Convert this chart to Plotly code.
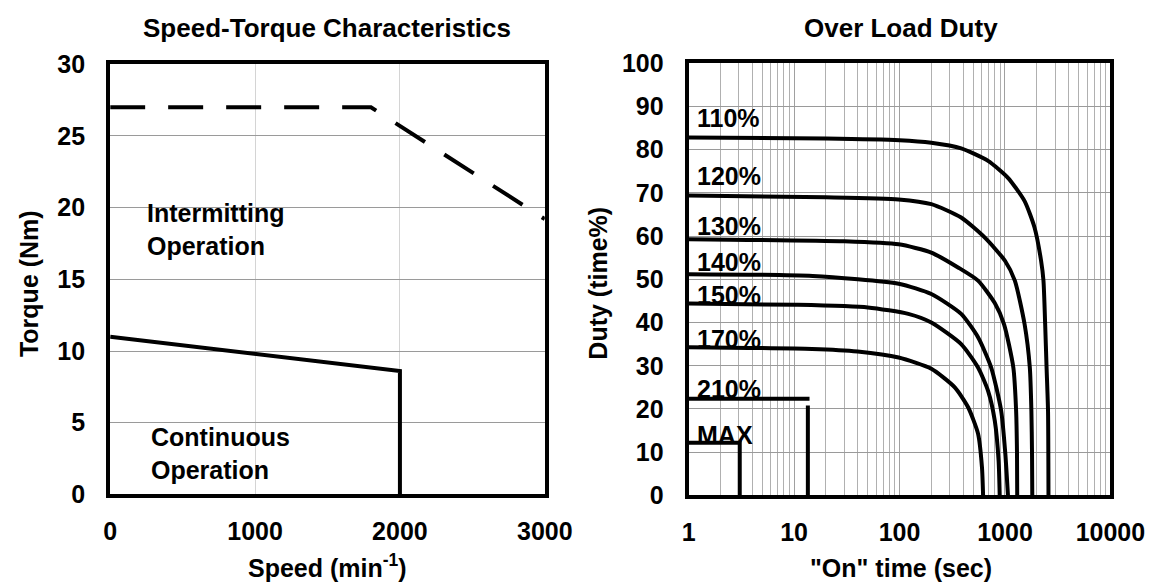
import plotly.graph_objects as go

W, H = 1153, 586

# ---------------- Speed-Torque data ----------------
intermit_speed = [0, 1800, 3000]
intermit_torque = [27.0, 27.0, 19.2]
cont_speed = [0, 2000, 2000]
cont_torque = [11.0, 8.6, 0.0]

# ---------------- Over load duty data ----------------
t110 = [1, 20, 100, 200, 384, 691, 1067, 1535, 1906, 2200, 2317, 2405, 2480, 2560, 2585]
d110 = [82.8, 82.6, 82.2, 81.6, 80.3, 77.4, 73.5, 68.1, 62.0, 54.3, 49.7, 39.6, 29.6, 19.6, 0]
t120 = [1, 20, 98, 200, 384, 641, 1000, 1240, 1535, 1720, 1780, 1805, 1815]
d120 = [69.4, 69.0, 68.5, 67.4, 64.3, 59.7, 54.3, 49.7, 39.6, 29.6, 19.6, 9.7, 0]
t130 = [1, 30, 98, 200, 362, 555, 800, 980, 1200, 1275, 1300, 1306]
d130 = [59.3, 58.8, 58.1, 56.2, 52.7, 49.7, 44.5, 39.6, 29.6, 19.6, 9.7, 0]
t140 = [1, 15, 98, 200, 384, 555, 740, 920, 1007, 1067]
d140 = [51.2, 50.8, 49.0, 46.6, 42.0, 36.6, 29.6, 19.6, 9.7, 0]
t150 = [1, 10.4, 50, 121, 200, 384, 555, 691, 800, 870, 891]
d150 = [44.4, 44.1, 43.5, 42.0, 40.0, 35.0, 29.6, 24.2, 17.3, 8.0, 0]
t170 = [1, 14.8, 40, 98, 200, 334, 447, 555, 605, 620]
d170 = [34.3, 33.9, 33.3, 31.9, 29.3, 25.0, 20.4, 14.3, 6.5, 0]
t210_h = [1, 14]
d210_h = [22.4, 22.4]
t210_v = [13.5, 13.5]
d210_v = [20.8, 0]
tmax = [1, 3.05, 3.05]
dmax = [12.2, 12.2, 0]

curve_labels = ["110%", "120%", "130%", "140%", "150%", "170%", "210%", "MAX"]
label_duty = [87.3, 73.9, 62.4, 53.9, 46.4, 36.3, 24.7, 13.9]

x_ticks_left = [0, 1000, 2000, 3000]
y_ticks_left = [0, 5, 10, 15, 20, 25, 30]
x_ticks_right = [1, 10, 100, 1000, 10000]
y_ticks_right = list(range(0, 101, 10))

FONT = "Liberation Sans, Arial, sans-serif"
FS = 25

# page pixel -> paper fraction (calibrated against the rendered page)
OX, SW = 12.1, 1119.6
OY, SH = 17.2, 565.5


def px(x):
    return (x - OX) / SW


def py(y):
    return 1 - (y - OY) / SH


fig = go.Figure()

fig.add_trace(go.Scatter(x=intermit_speed, y=intermit_torque, mode="lines",
                         line=dict(color="black", width=4, dash="35px,23px"),
                         xaxis="x", yaxis="y", showlegend=False))
fig.add_trace(go.Scatter(x=cont_speed, y=cont_torque, mode="lines",
                         line=dict(color="black", width=4), xaxis="x", yaxis="y",
                         showlegend=False))

for t, d in [(t110, d110), (t120, d120), (t130, d130), (t140, d140),
             (t150, d150), (t170, d170)]:
    fig.add_trace(go.Scatter(x=t, y=d, mode="lines",
                             line=dict(color="black", width=4, shape="spline", smoothing=0.6),
                             xaxis="x2", yaxis="y2", showlegend=False))
for t, d in [(t210_h, d210_h), (t210_v, d210_v), (tmax, dmax)]:
    fig.add_trace(go.Scatter(x=t, y=d, mode="lines", line=dict(color="black", width=4),
                             xaxis="x2", yaxis="y2", showlegend=False))

tickfont = dict(family=FONT, size=FS, color="black", weight="bold")
axis_common = dict(showline=True, mirror=True, linecolor="black", linewidth=4,
                   zeroline=False, ticks="outside", tickcolor="rgba(0,0,0,0)",
                   tickfont=tickfont)

minor_vals = [k * 10 ** d for d in range(4) for k in range(2, 10)]

fig.update_layout(
    width=W, height=H,
    margin=dict(l=0, r=0, t=0, b=0),
    paper_bgcolor="white", plot_bgcolor="white",
    font=dict(family=FONT, size=FS, color="black"),
    xaxis=dict(domain=[px(108), px(546)], anchor="y", range=[0, 3000],
               tickvals=x_ticks_left, ticklen=12, showgrid=True,
               gridcolor="#d4d4d4", gridwidth=1, **axis_common),
    yaxis=dict(domain=[py(496), py(60)], anchor="x", range=[0, 30],
               tickvals=y_ticks_left, ticklen=16, showgrid=True,
               gridcolor="#9a9a9a", gridwidth=1, **axis_common),
    xaxis2=dict(domain=[px(691), px(1116)], anchor="y2", type="log", range=[0, 4],
                tickvals=x_ticks_right, ticktext=[str(v) for v in x_ticks_right],
                ticklen=12, showgrid=True, gridcolor="#a0a0a0", gridwidth=1,
                minor=dict(tickvals=minor_vals, showgrid=True, gridcolor="#b0b0b0",
                           gridwidth=1, ticks=""),
                **axis_common),
    yaxis2=dict(domain=[py(497), py(59)], anchor="x2", range=[0, 100],
                tickvals=y_ticks_right, ticklen=16, showgrid=True,
                gridcolor="#9a9a9a", gridwidth=1, **axis_common),
)

bold = dict(family=FONT, size=FS, color="black", weight="bold")
title_font = dict(family=FONT, size=26, color="black", weight="bold")


def paper_anno(text, x, y, font, angle=0):
    return dict(text=text, x=px(x), y=py(y), xref="paper", yref="paper",
                xanchor="center", yanchor="middle", showarrow=False,
                textangle=angle, font=font)


annos = [
    paper_anno("Speed-Torque Characteristics", 327, 23, title_font),
    paper_anno("Over Load Duty", 905, 23, title_font),
    paper_anno("Torque (Nm)", 27, 282, bold, -90),
    paper_anno("Duty (time%)", 600, 282, bold, -90),
    paper_anno("Speed (min<sup>-1</sup>)", 327, 569, bold),
    paper_anno("\"On\" time (sec)", 905, 571, bold),
]
# region labels
annos.append(dict(text="Intermitting<br>Operation", x=240, y=18.5, xref="x", yref="y",
                  xanchor="left", yanchor="middle", align="left", showarrow=False, font=bold))
annos.append(dict(text="Continuous<br>Operation", x=267, y=2.86, xref="x", yref="y",
                  xanchor="left", yanchor="middle", align="left", showarrow=False, font=bold))
# curve labels (log axis -> annotation x in log10 units)
for lab, dy in zip(curve_labels, label_duty):
    annos.append(dict(text=lab, x=0.06, y=dy, xref="x2", yref="y2", xanchor="left",
                      yanchor="middle", showarrow=False, font=bold))

fig.update_layout(annotations=annos)
fig.write_html("out.html")
